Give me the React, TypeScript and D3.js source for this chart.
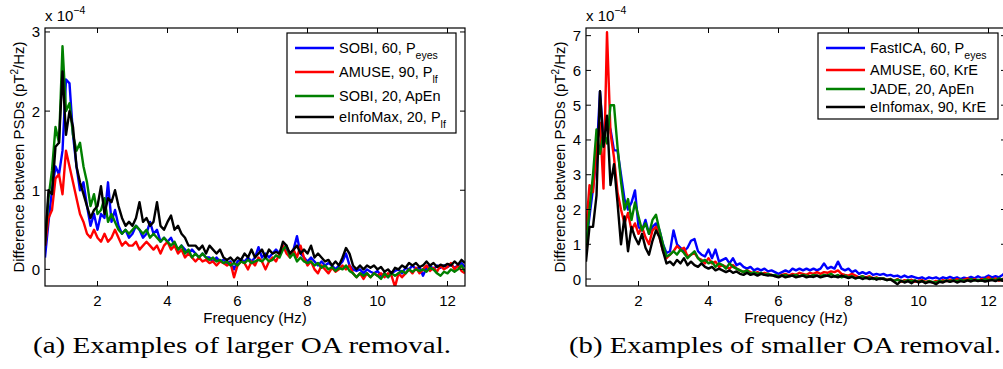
import React from "react";
import * as d3 from "d3";

// frequency grid (Hz), shared by both panels
const freqs = [
  0.5, 0.6, 0.7, 0.8, 0.9, 1.0, 1.1, 1.2, 1.3, 1.4,
  1.5, 1.6, 1.7, 1.8, 1.9, 2.0, 2.1, 2.2, 2.3, 2.4,
  2.5, 2.6, 2.7, 2.8, 2.9, 3.0, 3.1, 3.2, 3.3, 3.4,
  3.5, 3.6, 3.7, 3.8, 3.9, 4.0, 4.1, 4.2, 4.3, 4.4,
  4.5, 4.6, 4.7, 4.8, 4.9, 5.0, 5.1, 5.2, 5.3, 5.4,
  5.5, 5.6, 5.7, 5.8, 5.9, 6.0, 6.1, 6.2, 6.3, 6.4,
  6.5, 6.6, 6.7, 6.8, 6.9, 7.0, 7.1, 7.2, 7.3, 7.4,
  7.5, 7.6, 7.7, 7.8, 7.9, 8.0, 8.1, 8.2, 8.3, 8.4,
  8.5, 8.6, 8.7, 8.8, 8.9, 9.0, 9.1, 9.2, 9.3, 9.4,
  9.5, 9.6, 9.7, 9.8, 9.9, 10.0, 10.1, 10.2, 10.3, 10.4,
  10.5, 10.6, 10.7, 10.8, 10.9, 11.0, 11.1, 11.2, 11.3, 11.4,
  11.5, 11.6, 11.7, 11.8, 11.9, 12.0, 12.1, 12.2, 12.3, 12.4,
  12.5,
];

// (a) larger OA removal, values x 1e-4
const aSobi60 = [
  0.15, 0.6, 1.0, 1.3, 1.2, 1.5, 2.4, 2.35, 1.7, 1.3,
  1.0, 1.1, 0.8, 0.55, 0.7, 0.5, 0.7, 0.65, 1.1, 0.6,
  0.75, 0.55, 0.45, 0.5, 0.4, 0.45, 0.55, 0.5, 0.4, 0.45,
  0.6, 0.45, 0.5, 0.35, 0.4, 0.35, 0.4, 0.3, 0.25, 0.3,
  0.25, 0.2, 0.25, 0.2, 0.15, 0.2, 0.15, 0.15, 0.1, 0.15,
  0.1, 0.12, 0.08, 0.1, 0.0, 0.1, 0.12, 0.1, 0.15, 0.1,
  0.15, 0.28, 0.15, 0.2, 0.15, 0.2, 0.25, 0.2, 0.3, 0.25,
  0.2, 0.25, 0.42, 0.2, 0.15, 0.1, 0.15, 0.1, 0.05, 0.1,
  0.05, 0.08, 0.05, 0.0, 0.05, 0.1, 0.2, 0.05, 0.0, -0.02,
  0.0, -0.05, 0.0, -0.03, -0.05, -0.02, -0.08, -0.05, -0.1, -0.05,
  -0.02, 0.0, -0.05, 0.02, 0.0, 0.05, 0.0, 0.03, -0.08, 0.02,
  0.05, 0.0, 0.05, 0.02, 0.05, 0.03, 0.06, 0.02, 0.05, 0.08,
  0.03,
];
const aAmuse90 = [
  0.3, 0.65, 0.75, 1.15, 1.2, 0.95, 1.5, 1.3, 1.1, 0.9,
  0.7, 0.6, 0.45, 0.4, 0.5, 0.4, 0.35, 0.45, 0.35, 0.4,
  0.5, 0.4, 0.3, 0.35, 0.3, 0.3, 0.35, 0.25, 0.3, 0.35,
  0.3, 0.25, 0.3, 0.2, 0.3, 0.35, 0.25, 0.3, 0.2, 0.25,
  0.15, 0.2, 0.15, 0.1, 0.15, 0.1, 0.12, 0.08, 0.1, 0.05,
  0.1, 0.08, 0.05, 0.08, -0.1, 0.05, 0.1, 0.08, 0.0, 0.1,
  0.05, 0.15, 0.1, 0.0, 0.1, 0.15, 0.1, 0.2, 0.3, 0.2,
  0.15, 0.25, 0.15, 0.3, 0.15, 0.05, 0.1, 0.0, -0.05, 0.05,
  0.0, -0.05, 0.02, -0.03, 0.0, 0.05, 0.0, 0.05, -0.05, -0.1,
  -0.05, -0.12, -0.05, -0.1, -0.05, -0.08, -0.05, -0.1, -0.05, -0.08,
  -0.22, -0.05, -0.1, -0.05, 0.0, -0.05, 0.02, -0.05, 0.0, 0.05,
  -0.02, 0.02, -0.03, 0.05, 0.0, 0.03, 0.08, 0.0, 0.05, -0.02,
  -0.05,
];
const aSobi20 = [
  0.35, 0.9, 1.25, 1.8, 1.6, 2.82, 2.0, 2.1, 1.7, 1.5,
  1.6, 1.3, 1.1, 0.8, 0.95, 0.7, 0.75, 0.9, 0.6, 0.7,
  0.6, 0.5, 0.45, 0.5, 0.45, 0.5, 0.55, 0.5, 0.45, 0.5,
  0.4, 0.45, 0.4, 0.35, 0.4, 0.35, 0.3, 0.35, 0.25, 0.3,
  0.2, 0.25, 0.15, 0.2, 0.15, 0.2, 0.15, 0.12, 0.15, 0.1,
  0.12, 0.08, 0.1, 0.05, 0.08, 0.05, 0.1, 0.08, 0.12, 0.08,
  0.1, 0.12, 0.1, 0.15, 0.1, 0.12, 0.18, 0.15, 0.25, 0.3,
  0.15, 0.2, 0.1, 0.15, 0.1, 0.08, 0.1, 0.05, 0.08, 0.02,
  0.05, 0.0, 0.03, -0.02, 0.02, 0.0, 0.05, -0.02, -0.05, -0.1,
  -0.05, -0.08, -0.05, -0.1, -0.05, -0.08, -0.12, -0.05, -0.1, -0.05,
  -0.08, -0.05, -0.02, -0.05, 0.0, -0.03, 0.0, -0.02, 0.0, -0.03,
  0.02, 0.0, -0.05, -0.08, -0.03, -0.05, 0.0, -0.03, 0.0, 0.05,
  -0.03,
];
const aEinfo20 = [
  0.3, 1.0, 0.95, 1.55, 1.6, 2.5, 1.7, 2.0, 1.8, 1.3,
  1.1, 0.95, 0.8, 0.65, 0.75, 0.8, 1.05, 0.7, 0.9, 0.85,
  1.0, 0.8, 0.65, 0.55, 0.6, 0.55, 0.65, 0.85, 0.6, 0.65,
  0.55, 0.6, 0.85, 0.55, 0.5, 0.6, 0.68, 0.5, 0.55, 0.45,
  0.4, 0.3, 0.3, 0.3, 0.25, 0.3, 0.2, 0.3, 0.25, 0.2,
  0.25, 0.15, 0.12, 0.15, 0.1, 0.15, 0.12, 0.2, 0.15, 0.25,
  0.15, 0.2, 0.25, 0.15, 0.25, 0.2, 0.22, 0.2, 0.35, 0.3,
  0.2, 0.25, 0.3, 0.2, 0.25, 0.2, 0.3, 0.15, 0.2, 0.15,
  0.1, 0.12, 0.05, 0.1, 0.05, 0.15, 0.27, 0.2, 0.05, 0.0,
  0.05, 0.0, 0.05, 0.02, 0.05, 0.0, 0.03, -0.03, 0.0, -0.05,
  0.02, 0.0, 0.05, 0.02, 0.08, 0.05, 0.08, 0.03, 0.05, 0.1,
  0.05, 0.08, 0.03, 0.06, 0.04, 0.07, 0.05, 0.1, 0.06, 0.12,
  0.08,
];

// (b) smaller OA removal, values x 1e-4
const bFastica60 = [
  1.0, 1.8, 2.6, 3.5, 5.4, 4.0, 4.6, 4.3, 3.7, 3.7,
  3.0, 2.3, 2.0, 2.2, 2.55, 1.5, 1.4, 1.7, 1.3, 1.5,
  1.6, 1.4, 1.0, 0.75, 0.8, 1.4, 1.0, 0.9, 0.8, 0.9,
  1.1, 1.15, 0.8, 0.7, 0.65, 0.85, 0.6, 0.85, 0.5, 0.55,
  0.6, 0.45, 0.6, 0.4, 0.45, 0.35, 0.3, 0.35, 0.25, 0.3,
  0.25, 0.3, 0.22, 0.25, 0.2, 0.15, 0.2, 0.25, 0.2, 0.3,
  0.25, 0.3, 0.25, 0.3, 0.25, 0.3, 0.25, 0.3, 0.45, 0.3,
  0.35, 0.3, 0.5, 0.3, 0.25, 0.3, 0.2, 0.25, 0.15, 0.2,
  0.15, 0.2, 0.12, 0.15, 0.12, 0.15, 0.1, 0.12, 0.08, 0.1,
  0.05, 0.1, 0.05, 0.08, 0.05, 0.02, 0.05, 0.0, 0.05, 0.02,
  0.05, 0.0, 0.05, 0.02, 0.06, 0.02, 0.05, 0.0, 0.04, 0.02,
  0.06, 0.02, 0.08, 0.03, 0.05, 0.1, 0.05, 0.08, 0.05, 0.12,
  0.2,
];
const bAmuse60 = [
  1.4, 2.7, 2.5, 3.8, 4.5, 2.6, 7.1, 4.2, 3.5, 2.5,
  2.0, 1.6, 1.9, 1.4, 1.6, 1.3, 1.5, 1.2, 1.0, 1.4,
  1.5, 1.2, 0.8, 0.6, 0.7, 0.8, 0.95, 0.85, 0.9, 0.65,
  0.7, 0.75, 0.6, 0.55, 0.45, 0.6, 0.45, 0.5, 0.35, 0.4,
  0.35, 0.3, 0.4, 0.3, 0.25, 0.2, 0.25, 0.2, 0.15, 0.2,
  0.15, 0.18, 0.15, 0.12, 0.1, 0.08, 0.12, 0.15, 0.1, 0.15,
  0.12, 0.18, 0.15, 0.12, 0.18, 0.15, 0.2, 0.15, 0.2, 0.18,
  0.22, 0.2, 0.25, 0.15, 0.12, 0.1, 0.15, 0.1, 0.05, 0.08,
  0.05, 0.08, 0.02, 0.05, 0.0, 0.02, -0.02, 0.0, -0.05, 0.0,
  -0.08, -0.03, -0.05, -0.02, -0.08, -0.05, -0.03, -0.08, -0.05, -0.1,
  -0.05, -0.08, -0.03, -0.06, -0.02, -0.05, 0.0, -0.04, -0.02, 0.02,
  -0.03, 0.0, -0.05, 0.0, -0.02, 0.05, -0.02, 0.02, -0.05, 0.0,
  0.05,
];
const bJade20 = [
  0.9, 2.0, 3.0, 4.3, 3.6, 4.2, 3.9, 5.0, 5.0, 3.8,
  2.8, 2.0, 2.3, 1.7, 2.2, 1.8, 1.4, 1.6, 1.3, 1.7,
  1.85, 1.4, 1.0, 0.65, 0.7, 0.8, 0.7, 0.85, 0.75, 0.6,
  0.7, 0.8, 0.6, 0.5, 0.55, 0.45, 0.5, 0.35, 0.45, 0.4,
  0.3, 0.45, 0.35, 0.3, 0.25, 0.2, 0.25, 0.15, 0.2, 0.15,
  0.18, 0.12, 0.15, 0.1, 0.12, 0.08, 0.1, 0.12, 0.08, 0.1,
  0.12, 0.08, 0.12, 0.1, 0.08, 0.12, 0.1, 0.08, 0.12, 0.1,
  0.15, 0.08, 0.12, 0.05, 0.1, 0.05, 0.08, 0.02, 0.05, 0.08,
  0.02, 0.05, 0.0, 0.03, 0.0, 0.02, -0.03, 0.0, -0.05, -0.02,
  -0.05, -0.08, -0.03, -0.06, -0.04, -0.08, -0.05, -0.1, -0.06, -0.08,
  -0.1, -0.05, -0.08, -0.04, -0.07, -0.03, -0.06, -0.02, -0.05, -0.03,
  0.0, -0.04, -0.02, -0.05, 0.0, -0.03, 0.0, -0.04, 0.02, -0.02,
  0.02,
];
const bEinfo90 = [
  0.5, 1.5, 1.5, 2.4, 5.4, 3.8, 4.7, 2.7, 3.3, 2.2,
  1.0, 1.8, 0.8, 1.5, 1.2, 1.0, 1.3, 0.9, 0.7, 1.1,
  1.4, 1.2, 0.8, 0.45, 0.5, 0.4, 0.55, 0.45, 0.6, 0.4,
  0.5, 0.4, 0.35, 0.45, 0.35, 0.3, 0.35, 0.25, 0.3, 0.25,
  0.2, 0.25, 0.18, 0.22, 0.15, 0.12, 0.18, 0.12, 0.15, 0.1,
  0.15, 0.12, 0.1, 0.12, 0.08, 0.05, 0.1, 0.05, 0.08, 0.1,
  0.05, 0.08, 0.1, 0.05, 0.08, 0.06, 0.1, 0.05, 0.08, 0.1,
  0.06, 0.08, 0.05, 0.1, 0.06, 0.03, 0.06, 0.02, 0.05, 0.0,
  0.04, 0.0, 0.03, -0.02, 0.02, 0.0, -0.03, -0.01, -0.08, -0.15,
  -0.05, -0.1, -0.06, -0.12, -0.05, -0.1, -0.06, -0.12, -0.08, -0.1,
  -0.15, -0.08, -0.1, -0.05, -0.08, -0.05, -0.1, -0.06, -0.08, -0.04,
  -0.07, -0.03, -0.06, -0.04, -0.07, -0.05, -0.03, -0.06, -0.02, -0.05,
  -0.03,
];

const xTicks = [2, 4, 6, 8, 10, 12];
const aYTicks = [0, 1, 2, 3];
const bYTicks = [0, 1, 2, 3, 4, 5, 6, 7];

const seriesColors = ["#0000ff", "#ff0000", "#008000", "#000000"];
const aLegend = [["SOBI, 60, P", "eyes"], ["AMUSE, 90, P", "lf"], ["SOBI, 20, ApEn", ""], ["eInfoMax, 20, P", "lf"]];
const bLegend = [["FastICA, 60, P", "eyes"], ["AMUSE, 60, KrE", ""], ["JADE, 20, ApEn", ""], ["eInfomax, 90, KrE", ""]];

const FONT = "'Liberation Sans', Arial, Helvetica, sans-serif";
const SERIF = "'Liberation Serif', 'Times New Roman', serif";

type PanelProps = {
  id: string;
  left: number;
  yDomain: [number, number];
  yTicks: number[];
  series: number[][];
  legend: string[][];
  legendBox: { x: number; y: number; w: number; h: number; rows: number[] };
};

const Panel = ({ id, left, yDomain, yTicks, series, legend, legendBox }: PanelProps) => {
  const top = 28, bottom = 286, plotW = 420;
  const x = d3.scaleLinear().domain([0.5, 12.5]).range([left, left + plotW]);
  const y = d3.scaleLinear().domain(yDomain).range([bottom, top]);
  const line = d3.line<number>().x((_, i) => x(freqs[i])).y((v) => y(v));
  const tl = 5;

  return (
    <g fontFamily={FONT}>
      <defs>
        <clipPath id={`clip-${id}`}>
          <rect x={left} y={top} width={plotW} height={bottom - top} />
        </clipPath>
      </defs>
      <g clipPath={`url(#clip-${id})`}>
        {series.map((s, k) => (
          <path key={k} d={line(s) || ""} fill="none" stroke={seriesColors[k]} strokeWidth={2.4} strokeLinejoin="round" />
        ))}
      </g>
      <rect x={left} y={top} width={plotW} height={bottom - top} fill="none" stroke="#000" strokeWidth={1.2} />
      {xTicks.map((t) => (
        <g key={t}>
          <line x1={x(t)} x2={x(t)} y1={bottom} y2={bottom - tl} stroke="#000" />
          <line x1={x(t)} x2={x(t)} y1={top} y2={top + tl} stroke="#000" />
          <text x={x(t)} y={306} fontSize={15} textAnchor="middle">{t}</text>
        </g>
      ))}
      {yTicks.map((t) => (
        <g key={t}>
          <line x1={left} x2={left + tl} y1={y(t)} y2={y(t)} stroke="#000" />
          <line x1={left + plotW} x2={left + plotW - tl} y1={y(t)} y2={y(t)} stroke="#000" />
          <text x={left - 5} y={y(t) + 5.5} fontSize={15} textAnchor="end">{t}</text>
        </g>
      ))}
      <text x={left} y={21} fontSize={15}>x 10<tspan dy={-7} fontSize={10.5}>−4</tspan></text>
      <text x={left + plotW / 2} y={323} fontSize={15} textAnchor="middle">Frequency (Hz)</text>
      <text transform={`translate(${left - 21},${(top + bottom) / 2}) rotate(-90)`} fontSize={15} textAnchor="middle">
        Difference between PSDs (pT<tspan dy={-6} fontSize={10}>2</tspan><tspan dy={6}>/Hz)</tspan>
      </text>
      <rect x={legendBox.x} y={legendBox.y} width={legendBox.w} height={legendBox.h} fill="#fff" stroke="#000" strokeWidth={1.2} />
      {legend.map(([main, sub], k) => (
        <g key={k}>
          <line x1={legendBox.x + 8} x2={legendBox.x + 47} y1={legendBox.rows[k]} y2={legendBox.rows[k]} stroke={seriesColors[k]} strokeWidth={2.4} />
          <text x={legendBox.x + 52} y={legendBox.rows[k] + 5} fontSize={14.5}>
            {main}
            {sub && <tspan dy={6} fontSize={10.5}>{sub}</tspan>}
          </text>
        </g>
      ))}
    </g>
  );
};

export default function App() {
  return (
    <svg width={1003} height={369} style={{ position: "absolute", left: 0, top: 0, background: "#fff" }}>
      <rect width={1003} height={369} fill="#fff" />
      <Panel
        id="a"
        left={45}
        yDomain={[-0.21, 3.05]}
        yTicks={aYTicks}
        series={[aSobi60, aAmuse90, aSobi20, aEinfo20]}
        legend={aLegend}
        legendBox={{ x: 287, y: 33, w: 169, h: 100, rows: [48, 72, 96, 117] }}
      />
      <Panel
        id="b"
        left={586}
        yDomain={[-0.2, 7.22]}
        yTicks={bYTicks}
        series={[bFastica60, bAmuse60, bJade20, bEinfo90]}
        legend={bLegend}
        legendBox={{ x: 818, y: 33, w: 180, h: 86, rows: [48, 70, 89, 107] }}
      />
      <text x={33} y={353} fontSize={23} fontFamily={SERIF} textLength={418} lengthAdjust="spacingAndGlyphs">
        (a) Examples of larger OA removal.
      </text>
      <text x={569} y={353} fontSize={23} fontFamily={SERIF} textLength={432} lengthAdjust="spacingAndGlyphs">
        (b) Examples of smaller OA removal.
      </text>
    </svg>
  );
}
